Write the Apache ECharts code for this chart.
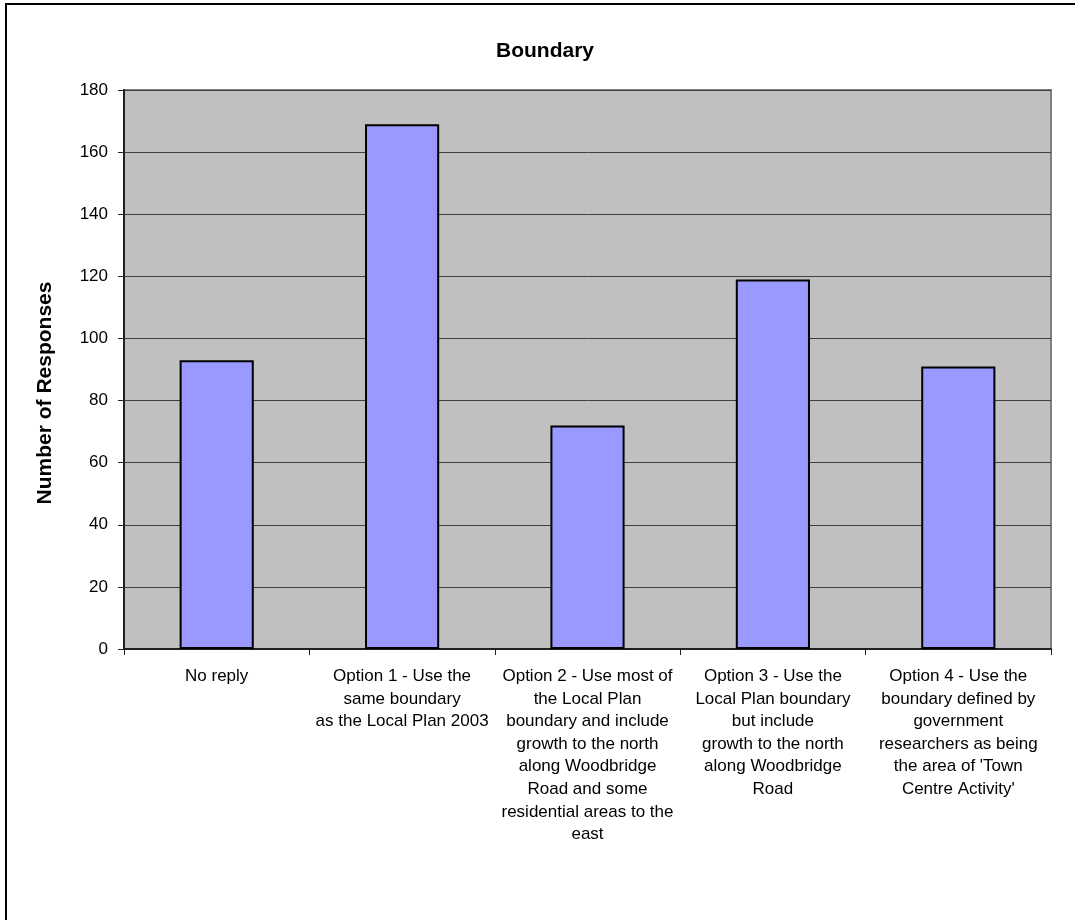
<!DOCTYPE html>
<html>
<head>
<meta charset="utf-8">
<script src="https://cdn.jsdelivr.net/npm/echarts@6/dist/echarts.min.js"></script>
<style>
  html, body { margin: 0; padding: 0; background: #fff; }
  #chart { width: 1075px; height: 920px; }
</style>
</head>
<body>
<div id="chart"></div>
<script>
const titleText = 'Boundary';
const yAxisTitle = 'Number of Responses';
const categories = [
  'No reply',
  'Option 1 - Use the\nsame boundary\nas the Local Plan 2003',
  'Option 2 - Use most of\nthe Local Plan\nboundary and include\ngrowth to the north\nalong Woodbridge\nRoad and some\nresidential areas to the\neast',
  'Option 3 - Use the\nLocal Plan boundary\nbut include\ngrowth to the north\nalong Woodbridge\nRoad',
  "Option 4 - Use the\nboundary defined by\ngovernment\nresearchers as being\nthe area of 'Town\nCentre Activity'"
];
const responses = [93, 169, 72, 119, 91];
const yMin = 0, yMax = 180, yStep = 20;

const FONT = '"Liberation Sans", Arial, sans-serif';
const chart = echarts.init(document.getElementById('chart'), null, { renderer: 'canvas' });

chart.setOption({
  animation: false,
  backgroundColor: '#ffffff',
  textStyle: { fontFamily: FONT },
  title: {
    text: titleText,
    left: 540,
    top: 46,
    textAlign: 'center',
    textVerticalAlign: 'middle',
    textStyle: { fontFamily: FONT, fontSize: 21, fontWeight: 'bold', color: '#000' }
  },
  graphic: [
    {
      type: 'rect',
      silent: true,
      shape: { x: 6, y: 4, width: 1300, height: 1300 },
      style: { fill: 'none', stroke: '#000', lineWidth: 2 },
      z: 100
    },
    {
      type: 'text',
      x: 45,
      y: 393,
      rotation: Math.PI / 2,
      style: {
        text: yAxisTitle,
        fontFamily: FONT,
        fontSize: 21,
        fontWeight: 'bold',
        fill: '#000',
        align: 'center',
        verticalAlign: 'middle'
      }
    }
  ],
  grid: {
    left: 124,
    right: 24,
    top: 90,
    bottom: 271,
    show: true,
    backgroundColor: '#C0C0C0',
    borderColor: '#808080',
    borderWidth: 2
  },
  xAxis: {
    type: 'category',
    data: categories,
    boundaryGap: true,
    axisLine: { show: true, lineStyle: { color: '#202020', width: 2 } },
    axisTick: { show: true, length: 6, lineStyle: { color: '#202020', width: 1 } },
    axisLabel: {
      interval: 0,
      margin: 16,
      fontFamily: FONT,
      fontSize: 17,
      lineHeight: 22.6,
      color: '#000',
      align: 'center',
      verticalAlign: 'top'
    },
    splitLine: { show: false }
  },
  yAxis: {
    type: 'value',
    min: yMin,
    max: yMax,
    interval: yStep,
    axisLine: { show: true, lineStyle: { color: '#202020', width: 2 } },
    axisTick: { show: true, length: 6, lineStyle: { color: '#202020', width: 1 } },
    axisLabel: { margin: 16, fontFamily: FONT, fontSize: 17, color: '#000' },
    splitLine: { show: true, lineStyle: { color: '#404040', width: 1 } }
  },
  series: [
    {
      type: 'bar',
      data: responses,
      barCategoryGap: '60%',
      itemStyle: { color: '#9999FF', borderColor: '#000', borderWidth: 2 }
    }
  ]
});
</script>
</body>
</html>
